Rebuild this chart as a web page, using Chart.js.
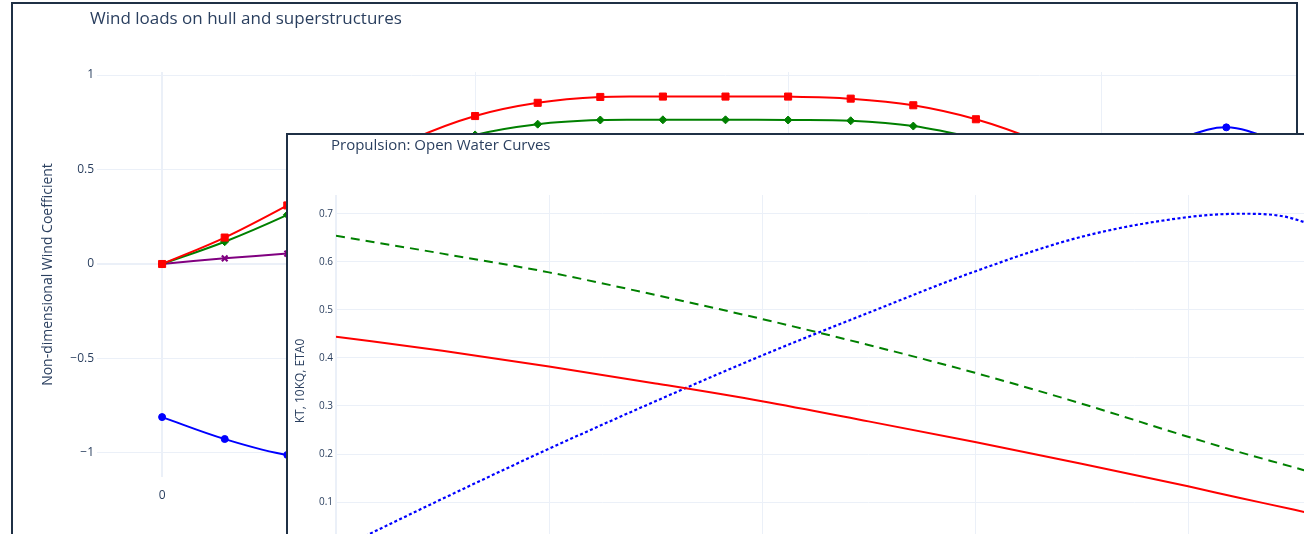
<!DOCTYPE html>
<html>
<head>
<meta charset="utf-8">
<script src="https://cdn.jsdelivr.net/npm/chart.js@4.4.1/dist/chart.umd.min.js"></script>
<style>
  html, body { margin: 0; padding: 0; background: #fff; overflow: hidden; width: 1304px; height: 534px; }
  .frame { position: absolute; border: 2px solid #1f3045; background: #fff; overflow: hidden; }
  #windBox { left: 11px; top: 2px; width: 1283px; height: 600px; z-index: 1; }
  #propBox { left: 286px; top: 133px; width: 1133px; height: 472px; z-index: 2; }
  .frame canvas { position: absolute; left: 0; top: 0; }
  .title { position: absolute; font-family: "Open Sans", sans-serif; color: #2a3f5f; white-space: nowrap; z-index: 3; }
  #windTitle { left: 77px; top: 4.5px; font-size: 17px; line-height: 17px; }
  #propTitle { left: 43px; top: 2px; font-size: 15px; line-height: 15px; }
</style>
</head>
<body>
<div class="frame" id="windBox">
  <canvas id="wind" width="1351" height="523"></canvas>
  <div class="title" id="windTitle">Wind loads on hull and superstructures</div>
</div>
<div class="frame" id="propBox">
  <canvas id="prop" width="1133" height="472"></canvas>
  <div class="title" id="propTitle">Propulsion: Open Water Curves</div>
</div>
<script>
// wind coefficients vs relative wind angle (deg)
const windAngles = [0, 10, 20, 30, 40, 50, 60, 70, 80, 90, 100, 110, 120, 130, 140, 150, 160, 170, 180];
const windCx = [-0.81, -0.926, -1.01, -1.03, -0.98, -0.85, -0.65, -0.42, -0.18, 0.05, 0.25, 0.42, 0.5, 0.53, 0.56, 0.6, 0.64, 0.723, 0.63];
const windCy = [0, 0.14, 0.31, 0.49, 0.66, 0.783, 0.853, 0.884, 0.886, 0.886, 0.886, 0.875, 0.84, 0.766, 0.65, 0.5, 0.33, 0.16, 0];
const windCn = [0, 0.118, 0.26, 0.42, 0.57, 0.683, 0.74, 0.762, 0.763, 0.763, 0.762, 0.758, 0.73, 0.665, 0.58, 0.45, 0.3, 0.15, 0];
const windCk = [0, 0.03, 0.055, 0.08, 0.1, 0.11, 0.12, 0.12, 0.11, 0.1, 0.08, 0.06, 0.04, 0.02, 0, -0.01, -0.01, -0.005, 0];
const windXTicks = [0, 50, 100, 150];
const windYTicks = [-1, -0.5, 0, 0.5, 1];

// open water curves vs advance ratio J
const advanceJ = [0, 0.1, 0.2, 0.3, 0.4, 0.5, 0.6, 0.7, 0.8, 0.85, 0.9, 0.95, 1.0];
const kt = [0.444, 0.415, 0.382, 0.347, 0.310, 0.268, 0.225, 0.180, 0.133, 0.108, 0.084, 0.058, 0.032];
const kq10 = [0.654, 0.617, 0.578, 0.531, 0.481, 0.427, 0.369, 0.305, 0.236, 0.203, 0.172, 0.14, 0.105];
const eta0 = [0, 0.107, 0.211, 0.31, 0.405, 0.494, 0.58, 0.652, 0.693, 0.700, 0.689, 0.63, 0.49];
const propXTicks = [0, 0.2, 0.4, 0.6, 0.8, 1];
const propYTicks = [0, 0.1, 0.2, 0.3, 0.4, 0.5, 0.6, 0.7];

Chart.defaults.font.family = "'Open Sans', sans-serif";
Chart.defaults.color = "#2a3f5f";

const gridColor = "#EBF0F8";
const zeroWidth = ctx => (ctx.tick && ctx.tick.value === 0 ? 2 : 1);
const minus = v => (v < 0 ? "\u2212" + Math.abs(v) : String(v));

function pts(xs, ys) {
    return xs.map((x, i) => ({ x: x, y: ys[i] }));
}

function windSet(label, ys, color, style, radius, bw) {
    return {
        label: label,
        data: pts(windAngles, ys),
        borderColor: color,
        backgroundColor: color,
        borderWidth: 2,
        tension: 0.35,
        pointStyle: style,
        pointRadius: radius,
        pointBorderWidth: bw,
        pointBackgroundColor: color,
        pointBorderColor: color,
    };
}

new Chart(document.getElementById("wind"), {
    type: "line",
    data: {
        datasets: [
            windSet("CY", windCy, "red", "rect", 5, 1),
            windSet("CN", windCn, "green", "rectRot", 4, 1),
            windSet("CK", windCk, "purple", "crossRot", 4, 2.2),
            windSet("CX", windCx, "blue", "circle", 3.5, 1),
        ],
    },
    options: {
        responsive: false,
        animation: false,
        layout: { padding: { left: 23, top: 68, right: 10, bottom: 0 } },
        plugins: { legend: { display: false }, tooltip: { enabled: false } },
        scales: {
            x: {
                type: "linear",
                min: -10.4,
                max: 190.4,
                afterBuildTicks: s => { s.ticks = windXTicks.map(v => ({ value: v })); },
                afterFit: s => { s.height = 50; },
                ticks: { autoSkip: false, maxRotation: 0, padding: 11, font: { size: 12 }, callback: v => minus(v) },
                grid: { color: gridColor, lineWidth: zeroWidth, drawTicks: false },
                border: { display: false },
            },
            y: {
                min: -1.127,
                max: 1.016,
                afterBuildTicks: s => { s.ticks = windYTicks.map(v => ({ value: v })); },
                afterFit: s => { s.width = 61; },
                ticks: { padding: 3, font: { size: 12 }, callback: v => minus(v) },
                grid: { color: gridColor, lineWidth: zeroWidth, drawTicks: false },
                border: { display: false },
                title: {
                    display: true,
                    text: "Non-dimensional Wind Coefficient",
                    font: { size: 14 },
                    padding: { top: 4, bottom: 0 },
                },
            },
        },
    },
});

function propSet(label, ys, color, dash, width) {
    return {
        label: label,
        data: pts(advanceJ, ys),
        borderColor: color,
        backgroundColor: color,
        borderWidth: width,
        borderDash: dash,
        cubicInterpolationMode: "monotone",
        pointRadius: 0,
    };
}

new Chart(document.getElementById("prop"), {
    type: "line",
    data: {
        datasets: [
            propSet("KT", kt, "red", [], 2),
            propSet("10KQ", kq10, "green", [9, 6], 2),
            propSet("ETA0", eta0, "blue", [3, 2.4], 2.2),
        ],
    },
    options: {
        responsive: false,
        animation: false,
        layout: { padding: { left: 1, top: 60, right: 20, bottom: 0 } },
        plugins: { legend: { display: false }, tooltip: { enabled: false } },
        scales: {
            x: {
                type: "linear",
                min: 0,
                max: 1,
                afterBuildTicks: s => { s.ticks = propXTicks.map(v => ({ value: v })); },
                afterFit: s => { s.height = 40; },
                ticks: { autoSkip: false, maxRotation: 0, padding: 8, font: { size: 10 } },
                grid: { color: gridColor, lineWidth: zeroWidth, drawTicks: false },
                border: { display: false },
            },
            y: {
                min: -0.035,
                max: 0.739,
                afterBuildTicks: s => { s.ticks = propYTicks.map(v => ({ value: v })); },
                afterFit: s => { s.width = 47; },
                ticks: { padding: 3, font: { size: 10 } },
                grid: { color: gridColor, lineWidth: zeroWidth, drawTicks: false },
                border: { display: false },
                title: {
                    display: true,
                    text: "KT, 10KQ, ETA0",
                    font: { size: 12 },
                    padding: { top: 4, bottom: 0 },
                },
            },
        },
    },
});
</script>
</body>
</html>
